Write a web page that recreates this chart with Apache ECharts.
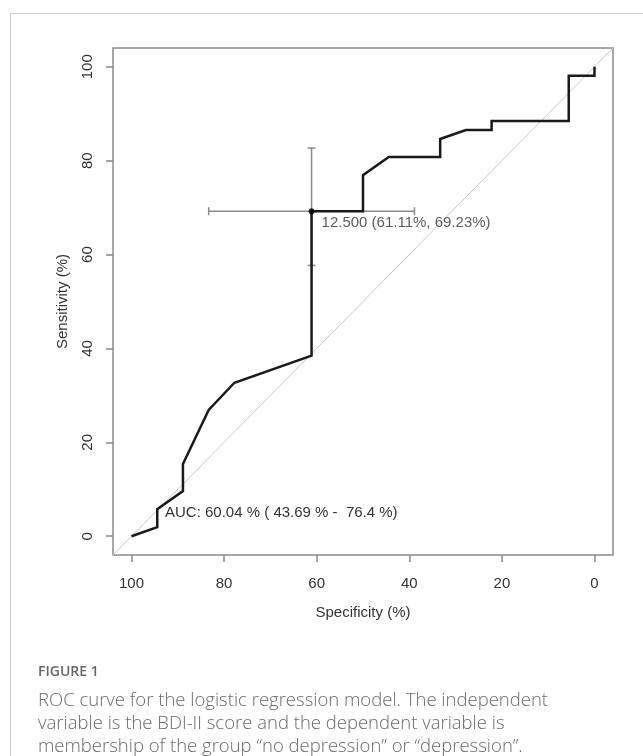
<!DOCTYPE html>
<html>
<head>
<meta charset="utf-8">
<script src="https://cdn.jsdelivr.net/npm/echarts@6/dist/echarts.min.js"></script>
<style>
html,body{margin:0;padding:0;background:#fff;}
#chart{width:643px;height:756px;}
</style>
</head>
<body>
<div id="chart"></div>
<script>
// ROC curve points (specificity %, sensitivity %)
const specVals = [100, 94.44, 94.44, 88.89, 88.89, 83.33, 77.78, 61.11, 61.11, 50.00, 50.00, 44.44, 33.33, 33.33, 27.78, 22.22, 22.22, 5.56, 5.56, 0, 0];
const sensVals = [0, 1.92, 5.77, 9.62, 15.38, 26.92, 32.69, 38.46, 69.23, 69.23, 76.92, 80.77, 80.77, 84.62, 86.54, 86.54, 88.46, 88.46, 98.08, 98.08, 100];
// chance diagonal (spans the full plot region)
const diagSpec = [104, -4];
const diagSens = [-4, 104];
// best threshold and its confidence intervals
const thresholdSpec = 61.11;
const thresholdSens = 69.23;
const specCI = [83.33, 38.89];
const sensCI = [57.69, 82.69];
const thresholdLabel = '12.500 (61.11%, 69.23%)';
const aucLabel = 'AUC: 60.04 % ( 43.69 % -  76.4 %)';
// axes
const tickValues = [0, 20, 40, 60, 80, 100];
const axisMin = -4, axisMax = 104;

const rocData = specVals.map((s, i) => [s, sensVals[i]]);
const diagData = diagSpec.map((s, i) => [s, diagSens[i]]);

const textColor = '#333';
const axisGray = '#8a8a8a';
const fontFam = '"Liberation Sans", Arial, sans-serif';

const chart = echarts.init(document.getElementById('chart'), null, {renderer: 'canvas'});

const option = {
  animation: false,
  backgroundColor: '#fff',
  grid: {
    left: 113, top: 48, width: 500, height: 507,
    show: true, borderColor: axisGray, borderWidth: 1.5, backgroundColor: 'transparent'
  },
  xAxis: {
    type: 'value', min: axisMin, max: axisMax, inverse: true,
    name: 'Specificity (%)', nameLocation: 'middle', nameGap: 50,
    nameTextStyle: {color: textColor, fontSize: 15, fontFamily: fontFam},
    axisLine: {show: false, onZero: false},
    axisTick: {show: true, length: 7, lineStyle: {color: axisGray, width: 1.5}, customValues: tickValues},
    axisLabel: {show: true, color: textColor, fontSize: 15, fontFamily: fontFam, margin: 21, customValues: tickValues},
    splitLine: {show: false}
  },
  yAxis: {
    type: 'value', min: axisMin, max: axisMax,
    name: 'Sensitivity (%)', nameLocation: 'middle', nameGap: 43, nameRotate: 90,
    nameTextStyle: {color: textColor, fontSize: 15, fontFamily: fontFam},
    axisLine: {show: false, onZero: false},
    axisTick: {show: true, length: 7, lineStyle: {color: axisGray, width: 1.5}, customValues: tickValues},
    axisLabel: {show: true, color: textColor, fontSize: 15, fontFamily: fontFam, margin: 18, rotate: 90, customValues: tickValues},
    splitLine: {show: false}
  },
  series: [
    {
      name: 'diagonal', type: 'line', data: diagData, showSymbol: false, silent: true,
      lineStyle: {color: '#c8c8c8', width: 1}, z: 1
    },
    {
      name: 'ci', type: 'custom', silent: true, z: 2,
      data: [[thresholdSpec, thresholdSens, specCI[0], specCI[1], sensCI[0], sensCI[1]]],
      renderItem: function (params, api) {
        const c = api.coord([api.value(0), api.value(1)]);
        const x1 = api.coord([api.value(2), api.value(1)])[0];
        const x2 = api.coord([api.value(3), api.value(1)])[0];
        const y1 = api.coord([api.value(0), api.value(4)])[1];
        const y2 = api.coord([api.value(0), api.value(5)])[1];
        const cap = 4;
        const st = {stroke: '#8a8a8a', lineWidth: 1.5};
        return {
          type: 'group',
          children: [
            {type: 'line', shape: {x1: x1, y1: c[1], x2: x2, y2: c[1]}, style: st},
            {type: 'line', shape: {x1: x1, y1: c[1] - cap, x2: x1, y2: c[1] + cap}, style: st},
            {type: 'line', shape: {x1: x2, y1: c[1] - cap, x2: x2, y2: c[1] + cap}, style: st},
            {type: 'line', shape: {x1: c[0], y1: y1, x2: c[0], y2: y2}, style: st},
            {type: 'line', shape: {x1: c[0] - cap, y1: y1, x2: c[0] + cap, y2: y1}, style: st},
            {type: 'line', shape: {x1: c[0] - cap, y1: y2, x2: c[0] + cap, y2: y2}, style: st}
          ]
        };
      }
    },
    {
      name: 'roc', type: 'line', data: rocData, showSymbol: false, silent: true,
      lineStyle: {color: '#1a1a1a', width: 2.5, join: 'miter'}, z: 3
    },
    {
      name: 'threshold', type: 'scatter', data: [[thresholdSpec, thresholdSens]],
      symbol: 'circle', symbolSize: 6, itemStyle: {color: '#000'}, z: 4, silent: true,
      label: {
        show: true, formatter: thresholdLabel, position: 'right', distance: 0, offset: [7, 12],
        color: textColor, fontSize: 15, fontFamily: fontFam
      }
    }
  ],
  graphic: [
    {type: 'rect', shape: {x: 10.5, y: 13.5, width: 700, height: 800},
     style: {fill: 'none', stroke: '#cccccc', lineWidth: 1}, silent: true, z: -10},
    {type: 'text', left: 165, top: 505,
     style: {text: aucLabel, fill: textColor, font: '15px ' + fontFam}},
    {type: 'text', left: 38, top: 665,
     style: {text: 'FIGURE 1', fill: '#666', font: '600 14px "Open Sans", sans-serif'}},
    {type: 'text', left: 38, top: 689,
     style: {text: 'ROC curve for the logistic regression model. The independent\nvariable is the BDI-II score and the dependent variable is\nmembership of the group \u201cno depression\u201d or \u201cdepression\u201d.',
             fill: '#6a6a6a', font: '300 18.5px "Open Sans", sans-serif', lineHeight: 23}}
  ]
};
chart.setOption(option);
</script>
</body>
</html>
